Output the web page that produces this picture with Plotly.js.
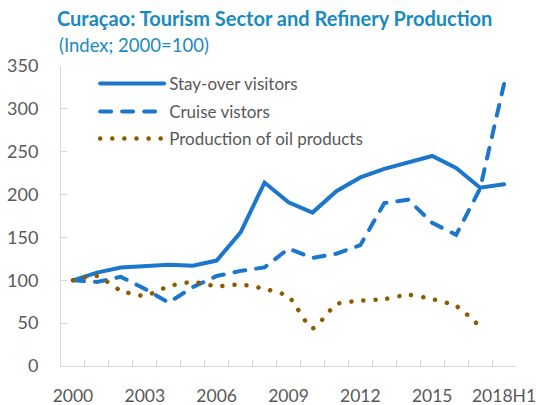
<!DOCTYPE html>
<html>
<head>
<meta charset="utf-8">
<script src="https://cdn.plot.ly/plotly-3.0.1.min.js"></script>
<style>
html,body{margin:0;padding:0;background:#fff;}
#chart{width:536px;height:405px;}
.scatterlayer .js-line, .legend .js-line, .legend2 .js-line, .legend3 .js-line, .legend path { stroke-linecap: round; }
</style>
</head>
<body>
<div id="chart"></div>
<script>
var years = ["2000","2001","2002","2003","2004","2005","2006","2007","2008","2009","2010","2011","2012","2013","2014","2015","2016","2017","2018H1"];
var tickLabels = ["2000","","","2003","","","2006","","","2009","","","2012","","","2015","","","2018H1"];
var stayOver = [100,109,115,117,118,117,123,156,214,191,179,204,220,230,237,245,231,208,212];
var cruise = [100,98,104,90,74,92,105,111,115,137,126,131,141,190,194,167,153,207,329];
var oil = [100,105,88,82,93,98,93,95,90,81,44,72,76,78,83,78,70,46,null];

var blue = "#1c76cc";
var brown = "#8c5a00";
var gray = "#595959";
var font = "Lato, 'Open Sans', sans-serif";

var traces = [
  {x: years, y: stayOver, name: "Stay-over visitors", type: "scatter", mode: "lines",
   line: {color: blue, width: 4}, legend: "legend"},
  {x: years, y: cruise, name: "Cruise vistors", type: "scatter", mode: "lines",
   line: {color: blue, width: 4, dash: "11px,11px"}, legend: "legend2"},
  {x: years, y: oil, name: "Production of oil products", type: "scatter", mode: "lines",
   line: {color: brown, width: 4.5, dash: "0.1px,12px", shape: "spline", smoothing: 0.6}, legend: "legend3"}
];

function leg(yPix) {
  return {x: 0.075, y: (366 - yPix) / 300, xanchor: "left", yanchor: "middle",
          bgcolor: "rgba(0,0,0,0)", font: {family: font, size: 17, color: gray},
          itemwidth: 64};
}

var layout = {
  width: 536, height: 405,
  margin: {l: 61, r: 20, t: 66, b: 39},
  paper_bgcolor: "#fff", plot_bgcolor: "#fff",
  showlegend: true,
  font: {family: font, color: gray, size: 17},
  title: {text: "<b>Curaçao: Tourism Sector and Refinery Production</b>",
          font: {family: font, size: 20, color: "#1a8bbf"},
          xref: "container", yref: "container", x: 57/536, xanchor: "left",
          y: 1 - 19/405, yanchor: "middle"},
  annotations: [
    {text: "(Index; 2000=100)", xref: "paper", yref: "paper", x: -4/455, y: 1 + 21/300,
     xanchor: "left", yanchor: "middle", showarrow: false,
     font: {family: font, size: 18.5, color: "#1a8bbf"}}
  ],
  xaxis: {
    type: "category", categoryorder: "array", categoryarray: years,
    tickvals: years, ticktext: tickLabels, tickson: "boundaries", tickangle: 0,
    ticks: "inside", ticklen: 6, tickcolor: "#d9d9d9", tickwidth: 1,
    showline: true, linecolor: "#d9d9d9", linewidth: 1,
    showgrid: false, zeroline: false,
    tickfont: {family: font, size: 17.5, color: gray},
    ticklabelstandoff: 14,
    range: [-0.5, 18.5], fixedrange: true
  },
  yaxis: {
    range: [0, 350], dtick: 50, tick0: 0,
    ticks: "inside", ticklen: 6, tickcolor: "#d9d9d9", tickwidth: 1,
    showline: true, linecolor: "#d9d9d9", linewidth: 1,
    showgrid: false, zeroline: false,
    tickfont: {family: font, size: 18, color: gray},
    ticklabelstandoff: 18
  },
  legend: leg(84),
  legend2: leg(112),
  legend3: leg(139)
};

Plotly.newPlot("chart", traces, layout, {displayModeBar: false, staticPlot: true});
</script>
</body>
</html>
